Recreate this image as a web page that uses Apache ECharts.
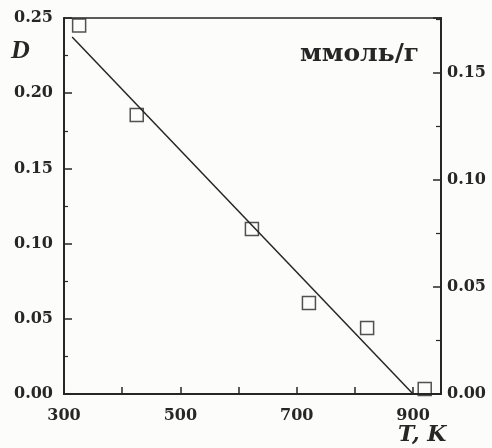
<!DOCTYPE html>
<html>
<head>
<meta charset="utf-8">
<script src="https://cdn.jsdelivr.net/npm/echarts@6/dist/echarts.min.js"></script>
<style>
html,body{margin:0;padding:0;background:#fcfcfb;}
#c{width:492px;height:448px;}
</style>
</head>
<body>
<div id="c"></div>
<script>
// Data
var temperatureK = [326, 425, 623, 721, 821, 920];
var dValues = [0.245, 0.1855, 0.1097, 0.0605, 0.0439, 0.0033];
var fitLineT = [314, 900];
var fitLineD = [0.2374, 0.0];
var xTickLabels = [300, 500, 700, 900];
var leftTicks = [0, 0.05, 0.10, 0.15, 0.20, 0.25];
var rightTicks = [0, 0.05, 0.10, 0.15];

var ink = '#262626';
var fontFam = '"DejaVu Serif", serif';

var chart = echarts.init(document.getElementById('c'), null, {renderer: 'canvas'});

var pts = temperatureK.map(function (t, i) { return [t, dValues[i]]; });
var fit = fitLineT.map(function (t, i) { return [t, fitLineD[i]]; });

chart.setOption({
  backgroundColor: '#fcfcfb',
  animation: false,
  grid: {
    left: 64, right: 51, top: 18, bottom: 54,
    show: true, borderColor: ink, borderWidth: 1.5, backgroundColor: 'transparent'
  },
  xAxis: {
    type: 'value', min: 300, max: 948, interval: 100,
    axisLine: {show: true, lineStyle: {color: ink, width: 2}},
    axisTick: {show: true, inside: true, length: 7, lineStyle: {color: ink, width: 1.5}},
    splitLine: {show: false},
    axisLabel: {
      color: ink, fontFamily: fontFam, fontWeight: 'bold', fontSize: 16, margin: 14,
      showMaxLabel: false,
      formatter: function (v) { return xTickLabels.indexOf(v) >= 0 ? String(v) : ''; }
    }
  },
  yAxis: [{
    type: 'value', min: 0, max: 0.25, interval: 0.05, position: 'left',
    axisLine: {show: true, lineStyle: {color: ink, width: 2}},
    axisTick: {show: true, inside: true, length: 8, lineStyle: {color: ink, width: 1.5}},
    minorTick: {show: true, splitNumber: 2, length: 4, lineStyle: {color: ink, width: 1.2}},
    splitLine: {show: false},
    axisLabel: {
      color: ink, fontFamily: fontFam, fontWeight: 'bold', fontSize: 16, margin: 11,
      padding: [4, 0, 0, 0],
      formatter: function (v) {
        for (var i = 0; i < leftTicks.length; i++) {
          if (Math.abs(leftTicks[i] - v) < 1e-9) return leftTicks[i].toFixed(2);
        }
        return '';
      }
    }
  }, {
    type: 'value', min: 0, max: 0.1757, interval: 0.05, position: 'right',
    axisLine: {show: true, lineStyle: {color: ink, width: 2}},
    axisTick: {show: true, inside: true, length: 8, lineStyle: {color: ink, width: 1.5}},
    minorTick: {show: true, splitNumber: 2, length: 5, lineStyle: {color: ink, width: 1.2}},
    splitLine: {show: false},
    axisLabel: {
      color: ink, fontFamily: fontFam, fontWeight: 'bold', fontSize: 16, margin: 6,
      padding: [4, 0, 0, 0],
      showMaxLabel: false,
      formatter: function (v) {
        for (var i = 0; i < rightTicks.length; i++) {
          if (Math.abs(rightTicks[i] - v) < 1e-9) return rightTicks[i].toFixed(2);
        }
        return '';
      }
    }
  }],
  series: [{
    type: 'line', data: fit, yAxisIndex: 0, symbol: 'none',
    lineStyle: {color: ink, width: 1.5}, silent: true, z: 2
  }, {
    type: 'scatter', data: pts, yAxisIndex: 0, symbol: 'rect', symbolSize: 13,
    itemStyle: {color: 'rgba(252,252,251,0)', borderColor: ink, borderWidth: 1.5}, z: 3
  }],
  graphic: [{
    type: 'text', left: 11, top: 38,
    style: {text: 'D', font: 'italic bold 26px "Liberation Serif", serif', fill: ink}
  }, {
    type: 'text', left: 300, top: 42,
    style: {text: 'ммоль/г', font: 'bold 25px "DejaVu Serif", serif', fill: ink}
  }, {
    type: 'text', left: 398, top: 424,
    style: {text: 'T, K', font: 'italic bold 22px "DejaVu Serif", serif', fill: ink}
  }]
});
</script>
</body>
</html>
